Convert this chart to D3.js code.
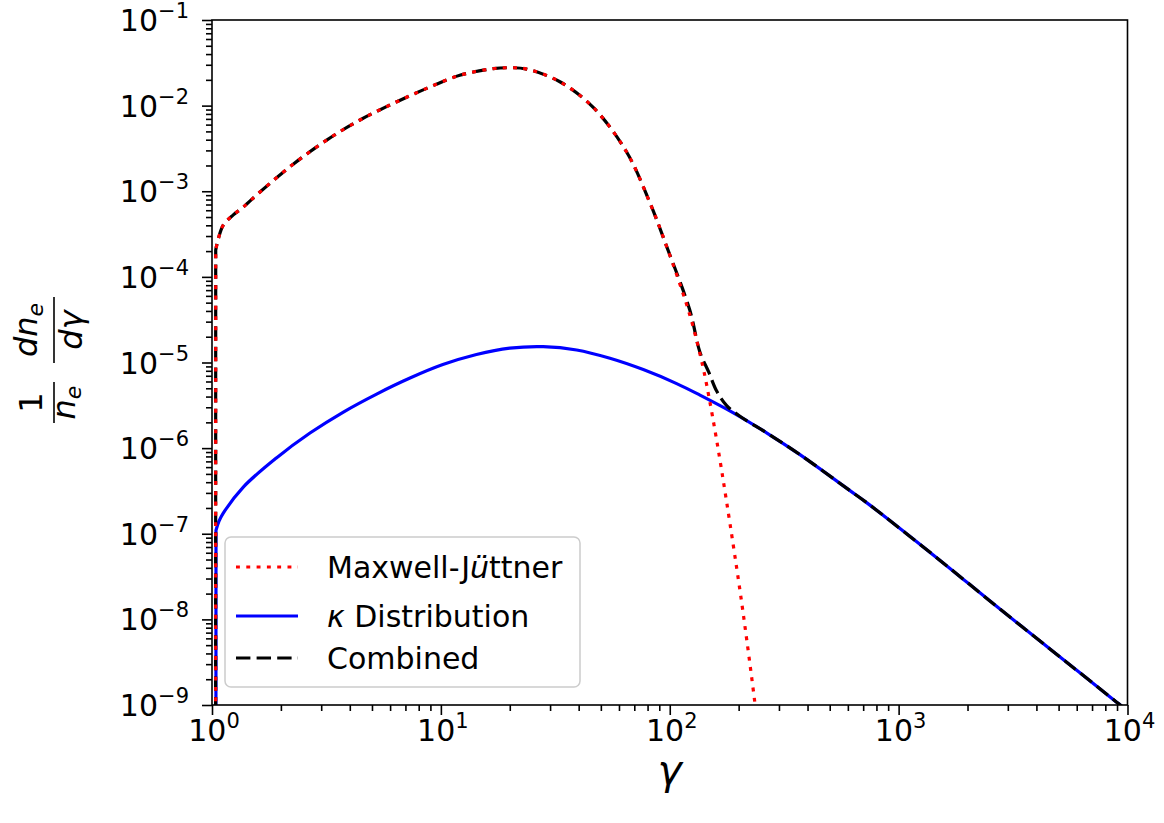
<!DOCTYPE html>
<html>
<head>
<meta charset="utf-8">
<script src="https://cdn.jsdelivr.net/npm/d3@7"></script>
<style>
  html, body { margin: 0; padding: 0; background: #fff; }
  svg text { font-family: "DejaVu Sans", sans-serif; fill: #000; }
</style>
</head>
<body>
<svg id="chart"></svg>
<script>
// values (gamma, 1/n_e dn_e/dgamma); first point of each is the clipped drop at gamma ~ 1
const mjGamma = [1.037, 1.038, 1.065, 1.12, 1.239, 1.37, 1.62, 2.27, 3.17, 4.43, 6.19, 8.67, 12.1, 16.9, 20.0, 23.7, 33.1, 46.3, 64.8, 82.0, 96.9, 122.4, 139.7, 148.4, 160.3, 177.3, 202.6, 216.8, 235.6, 247.7];
const mjValue = [1e-11, 2.06e-4, 2.77e-4, 4.03e-4, 5.3e-4, 6.53e-4, 9.8e-4, 2.08e-3, 3.96e-3, 6.79e-3, 1.06e-2, 1.59e-2, 2.26e-2, 2.70e-2, 2.77e-2, 2.67e-2, 1.90e-2, 9.53e-3, 2.87e-3, 7.28e-4, 2.27e-4, 3.58e-5, 8.83e-6, 3.94e-6, 1.24e-6, 2.34e-7, 2.19e-8, 5.87e-9, 1.05e-9, 3.4e-10];

const kappaGamma = [1.040, 1.041, 1.073, 1.12, 1.37, 1.918, 2.68, 3.75, 5.24, 7.33, 10.2, 14.3, 20.0, 28.0, 39.2, 54.8, 76.6, 107.2, 135.5, 188.8, 265.9, 370.6, 612.8, 724.6, 1412, 2771, 5420, 8964, 10000];
const kappaValue = [1e-11, 1.10e-7, 1.40e-7, 1.74e-7, 3.51e-7, 7.74e-7, 1.50e-6, 2.64e-6, 4.28e-6, 6.58e-6, 9.45e-6, 1.24e-5, 1.47e-5, 1.53e-5, 1.40e-5, 1.12e-5, 8.26e-6, 5.67e-6, 4.16e-6, 2.60e-6, 1.50e-6, 8.39e-7, 3.19e-7, 2.31e-7, 5.70e-8, 1.32e-8, 3.16e-9, 1.08e-9, 8.55e-10];

const combGamma = [1.037, 1.038, 1.065, 1.12, 1.239, 1.37, 1.62, 2.27, 3.17, 4.43, 6.19, 8.67, 12.1, 16.9, 20.0, 23.7, 33.1, 46.3, 64.8, 82.0, 96.9, 122.4, 135.5, 148.4, 160.3, 177.3, 202.6, 265.9, 370.6, 612.8, 724.6, 1412, 2771, 5420, 8964, 10000];
const combValue = [1e-11, 2.06e-4, 2.77e-4, 4.03e-4, 5.3e-4, 6.53e-4, 9.8e-4, 2.08e-3, 3.96e-3, 6.79e-3, 1.06e-2, 1.59e-2, 2.26e-2, 2.70e-2, 2.77e-2, 2.67e-2, 1.90e-2, 9.53e-3, 2.87e-3, 7.28e-4, 2.27e-4, 4.07e-5, 1.32e-5, 7.6e-6, 4.64e-6, 3.13e-6, 2.36e-6, 1.50e-6, 8.39e-7, 3.19e-7, 2.31e-7, 5.70e-8, 1.32e-8, 3.16e-9, 1.08e-9, 8.55e-10];

const xTickExp = [0, 1, 2, 3, 4];
const yTickExp = [-9, -8, -7, -6, -5, -4, -3, -2, -1];
const legendLabels = ["Maxwell-J|ü|ttner", "|κ| Distribution", "Combined"];

// layout
const width = 1164, height = 823;
const margin = { top: 20, right: 36.5, bottom: 118, left: 212 };

const svg = d3.select("#chart")
    .attr("width", width)
    .attr("height", height)
    .attr("viewBox", [0, 0, width, height]);

const x = d3.scaleLog().domain([1, 1e4]).range([margin.left, width - margin.right]);
const y = d3.scaleLog().domain([1e-9, 1e-1]).range([height - margin.bottom, margin.top]);

// minor tick values 2..9 per decade
const minorsOf = exps => exps.slice(0, -1).flatMap(e => d3.range(2, 10).map(m => m * Math.pow(10, e)));

svg.append("defs").append("clipPath").attr("id", "plot-clip")
    .append("rect")
    .attr("x", margin.left).attr("y", margin.top)
    .attr("width", width - margin.left - margin.right)
    .attr("height", height - margin.top - margin.bottom);

// curves: straight drop from the first point, smooth curve after it
const smooth = d3.line()
    .curve(d3.curveCatmullRom.alpha(0.5))
    .x(d => x(d[0]))
    .y(d => y(d[1]));
function curvePath(pts) {
    const rest = smooth(pts.slice(1));
    return `M${x(pts[0][0])},${y(pts[0][1])}L` + rest.slice(1);
}

const mj = { pts: d3.zip(mjGamma, mjValue), color: "#ff0000", dash: "3.9,6.4" };
const kappa = { pts: d3.zip(kappaGamma, kappaValue), color: "#0000ff", dash: null };
const comb = { pts: d3.zip(combGamma, combValue), color: "#000000", dash: "14.4,6.2" };
const legendOrder = [mj, kappa, comb];
const drawOrder = [kappa, comb, mj];

const curves = svg.append("g").attr("clip-path", "url(#plot-clip)");
curves.selectAll("path")
    .data(drawOrder)
    .join("path")
    .attr("fill", "none")
    .attr("stroke", d => d.color)
    .attr("stroke-width", 3.2)
    .attr("stroke-dasharray", d => d.dash)
    .attr("d", d => curvePath(d.pts));

// axes (ticks only, frame drawn separately)
const xAxisG = svg.append("g").attr("transform", `translate(0,${height - margin.bottom})`);
xAxisG.append("g").call(d3.axisBottom(x).tickValues(minorsOf(xTickExp)).tickSize(6).tickFormat(""));
xAxisG.append("g").call(d3.axisBottom(x).tickValues(xTickExp.map(e => Math.pow(10, e))).tickSize(10).tickFormat(""));
const yAxisG = svg.append("g").attr("transform", `translate(${margin.left},0)`);
yAxisG.append("g").call(d3.axisLeft(y).tickValues(minorsOf(yTickExp)).tickSize(6).tickFormat(""));
yAxisG.append("g").call(d3.axisLeft(y).tickValues(yTickExp.map(e => Math.pow(10, e))).tickSize(10).tickFormat(""));
svg.selectAll(".domain").remove();
svg.selectAll(".tick line").attr("stroke", "#000").attr("stroke-width", 1.6);

// tick labels 10^n
function powLabel(sel, e) {
    sel.append("tspan").text("10");
    sel.append("tspan").attr("dy", -13).attr("font-size", 21).text(e < 0 ? "\u2212" + (-e) : String(e));
}
xTickExp.forEach(e => {
    svg.append("text")
        .attr("x", x(Math.pow(10, e)) + 2)
        .attr("y", height - margin.bottom + 36)
        .attr("font-size", 30)
        .attr("text-anchor", "middle")
        .call(powLabel, e);
});
yTickExp.forEach(e => {
    svg.append("text")
        .attr("x", margin.left - 23)
        .attr("y", y(Math.pow(10, e)) + 11)
        .attr("font-size", 30)
        .attr("text-anchor", "end")
        .call(powLabel, e);
});

// frame
svg.append("rect")
    .attr("x", margin.left).attr("y", margin.top)
    .attr("width", width - margin.left - margin.right)
    .attr("height", height - margin.top - margin.bottom)
    .attr("fill", "none")
    .attr("stroke", "#000")
    .attr("stroke-width", 1.6);

// x label
svg.append("text")
    .attr("x", (margin.left + width - margin.right) / 2)
    .attr("y", 784)
    .attr("font-size", 41)
    .attr("font-style", "italic")
    .attr("text-anchor", "middle")
    .text("\u03b3");

// y label: 1/n_e  dn_e/dgamma
const yl = svg.append("g").attr("transform", "translate(54,360) rotate(-90)");
yl.append("line").attr("x1", -63).attr("x2", -22).attr("stroke", "#000").attr("stroke-width", 1.6);
yl.append("line").attr("x1", -3).attr("x2", 63).attr("stroke", "#000").attr("stroke-width", 1.6);
yl.append("text").attr("x", -42.5).attr("y", -12).attr("font-size", 32).attr("text-anchor", "middle").text("1");
const den1 = yl.append("text").attr("x", -42.5).attr("y", 21).attr("font-size", 32).attr("text-anchor", "middle").attr("font-style", "italic");
den1.append("tspan").text("n");
den1.append("tspan").attr("dy", 6).attr("font-size", 22).text("e");
const num2 = yl.append("text").attr("x", 30).attr("y", -17).attr("font-size", 32).attr("text-anchor", "middle").attr("font-style", "italic");
num2.append("tspan").text("dn");
num2.append("tspan").attr("dy", 6).attr("font-size", 22).text("e");
yl.append("text").attr("x", 30).attr("y", 28).attr("font-size", 32).attr("text-anchor", "middle").attr("font-style", "italic").text("d\u03b3");

// legend
const legend = svg.append("g");
legend.append("rect")
    .attr("x", 225).attr("y", 537)
    .attr("width", 355).attr("height", 150)
    .attr("rx", 6)
    .attr("fill", "#fff").attr("fill-opacity", 0.8)
    .attr("stroke", "#cccccc").attr("stroke-width", 1.5);
const rowY = [567, 616, 658];
legendOrder.forEach((s, i) => {
    legend.append("line")
        .attr("x1", 236).attr("x2", 298)
        .attr("y1", rowY[i]).attr("y2", rowY[i])
        .attr("stroke", s.color)
        .attr("stroke-width", 3.2)
        .attr("stroke-dasharray", s.dash);
    const t = legend.append("text")
        .attr("x", 327).attr("y", rowY[i] + 11)
        .attr("font-size", 30);
    legendLabels[i].split("|").forEach((part, k) => {
        if (!part) return;
        t.append("tspan").attr("font-style", k % 2 ? "italic" : null).text(part);
    });
});
</script>
</body>
</html>
